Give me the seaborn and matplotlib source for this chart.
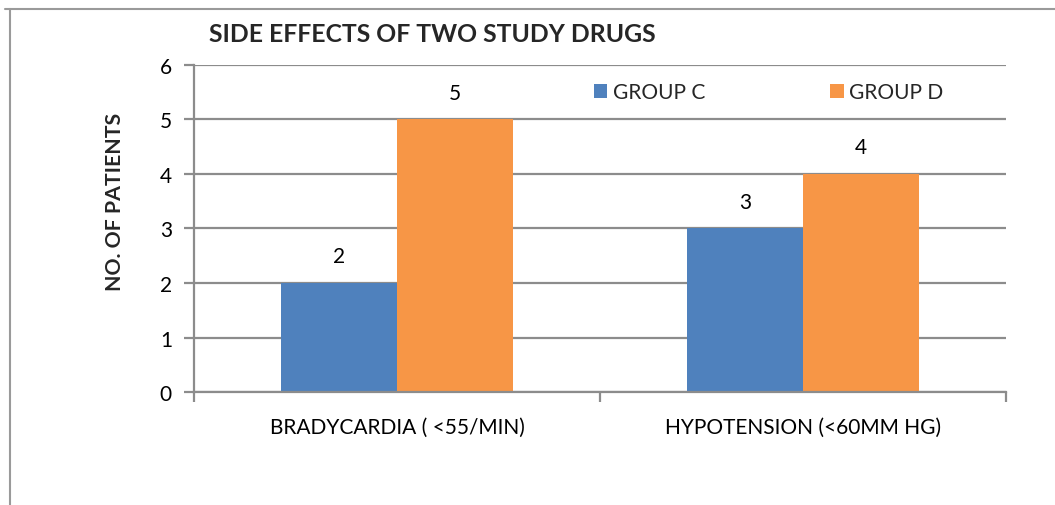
import matplotlib
matplotlib.use("Agg")
import matplotlib.pyplot as plt
import seaborn as sns
import pandas as pd
from matplotlib.lines import Line2D
from matplotlib.ticker import FixedLocator

categories = ["BRADYCARDIA ( <55/MIN)", "HYPOTENSION (<60MM HG)"]
groups = ["GROUP C", "GROUP D"]
group_c = [2, 3]
group_d = [5, 4]
y_ticks = [0, 1, 2, 3, 4, 5, 6]

df = pd.DataFrame({
    "cat": categories * 2,
    "grp": [groups[0]] * 2 + [groups[1]] * 2,
    "val": group_c + group_d,
})

sns.set_theme(style="white")
plt.rcParams["font.family"] = ["Lato", "DejaVu Sans"]

fig = plt.figure(figsize=(10.55, 5.06), dpi=100)
ax = fig.add_axes([0.184, 0.2233, 0.7695, 0.6463])

palette = {"GROUP C": "#4F81BD", "GROUP D": "#F79646"}
sns.barplot(data=df, x="cat", y="val", hue="grp", palette=palette,
            width=0.57, saturation=1, ax=ax, linewidth=0, legend=True)

ax.set_xlim(-0.5, 1.5)
ax.set_ylim(0, 6)
ax.set_yticks(y_ticks)
ax.yaxis.grid(True, color="#8c8c8c", linewidth=1.6)
ax.set_axisbelow(True)

for s in ["top", "right"]:
    ax.spines[s].set_visible(False)
for s in ["left", "bottom"]:
    ax.spines[s].set_color("#8c8c8c")
    ax.spines[s].set_linewidth(1.6)

ax.tick_params(axis="y", which="major", left=True, length=7, width=1.6,
               color="#8c8c8c", labelsize=15, pad=9, labelcolor="black")
ax.tick_params(axis="x", which="major", bottom=False, labelsize=15, pad=12,
               labelcolor="black")
ax.xaxis.set_minor_locator(FixedLocator([-0.5, 0.5, 1.5]))
ax.tick_params(axis="x", which="minor", bottom=True, length=7, width=1.6,
               color="#8c8c8c")

for c in ax.containers:
    ax.bar_label(c, padding=12, fontsize=15, color="black")

ax.set_xlabel("")
ax.set_ylabel("NO. OF PATIENTS", fontsize=15.3, fontweight="bold")
ax.yaxis.set_label_coords(-0.085, 0.584)

fig.text(0.4095, 0.931, "SIDE EFFECTS OF TWO STUDY DRUGS", fontsize=17.8,
         fontweight="bold", ha="center", va="center")

ax.legend(title=None, ncol=2, loc="center left", bbox_to_anchor=(0.492, 0.917),
          frameon=False, fontsize=15, handlelength=0.67, handleheight=0.67,
          handletextpad=0.25, columnspacing=6.0, borderpad=0, borderaxespad=0)

fig.add_artist(Line2D([5 / 1055, 1], [1 - 10 / 506, 1 - 10 / 506],
                      transform=fig.transFigure, color="#9a9a9a", linewidth=1.5))
fig.add_artist(Line2D([10 / 1055, 10 / 1055], [0, 1 - 10 / 506],
                      transform=fig.transFigure, color="#9a9a9a", linewidth=1.5))

fig.savefig("out.png", dpi=100)
